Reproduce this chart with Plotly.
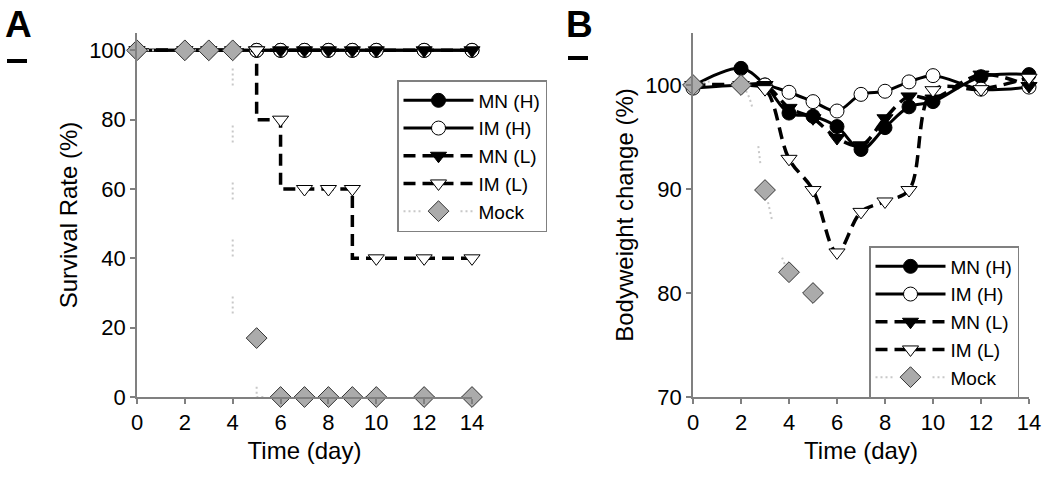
import plotly.graph_objects as go

# Panel A: survival rate (%)
days_a = [0, 2, 3, 4, 5, 6, 7, 8, 9, 10, 12, 14]
surv_mn_h = [100, 100, 100, 100, 100, 100, 100, 100, 100, 100, 100, 100]
surv_im_h = [100, 100, 100, 100, 100, 100, 100, 100, 100, 100, 100, 100]
surv_mn_l = [100, 100, 100, 100, 100, 100, 100, 100, 100, 100, 100, 100]
surv_im_l = [100, 100, 100, 100, 100, 80, 60, 60, 60, 40, 40, 40]
surv_mock = [100, 100, 100, 100, 17, 0, 0, 0, 0, 0, 0, 0]

# Panel B: bodyweight change (%)
days_b = [0, 2, 3, 4, 5, 6, 7, 8, 9, 10, 12, 14]
bw_mn_h = [99.9, 101.6, 100.0, 97.3, 97.0, 96.0, 93.8, 95.9, 97.9, 98.4, 100.8, 101.0]
bw_im_h = [99.7, 100.0, 100.0, 99.3, 98.4, 97.5, 99.1, 99.4, 100.3, 100.9, 99.6, 99.8]
bw_mn_l = [100.0, 100.0, 100.0, 97.8, 96.8, 94.9, 94.2, 96.8, 98.9, 98.7, 101.0, 99.9]
bw_im_l = [100.0, 100.0, 99.6, 92.9, 89.9, 83.9, 87.8, 88.8, 89.9, 99.5, 99.6, 100.7]
days_mock_b = [0, 2, 3, 4, 5]
bw_mock = [100.0, 100.0, 89.9, 82.0, 80.0]

names = ["MN (H)", "IM (H)", "MN (L)", "IM (L)", "Mock"]
FONT = "Liberation Sans, Arial, sans-serif"
GRAY = "#808080"
MOCK_DASH = "2px,3px,2px,3px,2px,3px,2px,40px"

styles = [
    dict(line=dict(color="black", width=3), marker=dict(symbol="circle", size=14, color="black", line=dict(color="black", width=1))),
    dict(line=dict(color="black", width=3), marker=dict(symbol="circle", size=14, color="white", line=dict(color="black", width=1))),
    dict(line=dict(color="black", width=3.5, dash="12px,7px"), marker=dict(symbol="triangle-down", size=14, color="black", line=dict(color="black", width=1))),
    dict(line=dict(color="black", width=3.5, dash="12px,7px"), marker=dict(symbol="triangle-down", size=14, color="white", line=dict(color="black", width=1))),
    dict(line=dict(color="#c8c8c8", width=2, dash=MOCK_DASH), marker=dict(symbol="diamond", size=16, color="#ababab", line=dict(color="#333333", width=1))),
]

fig = go.Figure()

series_a = [surv_mn_h, surv_im_h, surv_mn_l, surv_im_l, surv_mock]
for name, ys, st in zip(names, series_a, styles):
    fig.add_trace(go.Scatter(
        x=days_a, y=ys, name=name, mode="lines+markers",
        line=dict(st["line"], shape="vh"), marker=st["marker"],
        cliponaxis=False, xaxis="x", yaxis="y", legend="legend",
    ))

series_b = [(days_b, bw_mn_h), (days_b, bw_im_h), (days_b, bw_mn_l), (days_b, bw_im_l), (days_mock_b, bw_mock)]
for name, (xs, ys), st in zip(names, series_b, styles):
    fig.add_trace(go.Scatter(
        x=xs, y=ys, name=name, mode="lines+markers",
        line=dict(st["line"], shape="spline", smoothing=1), marker=st["marker"],
        cliponaxis=False, xaxis="x2", yaxis="y2", legend="legend2",
    ))

axis_common = dict(
    showline=True, linecolor=GRAY, linewidth=1.5, ticks="outside", ticklen=5,
    tickcolor=GRAY, tickwidth=1.5, showgrid=False, zeroline=False, automargin=False,
    tickfont=dict(family=FONT, size=22, color="black"),
)
ydom = [1 - 397 / 493, 1 - 33 / 493]
title_font = dict(family=FONT, size=24, color="black")

legend_common = dict(
    bgcolor="white", bordercolor=GRAY, borderwidth=1.5,
    font=dict(family=FONT, size=19, color="black"),
    tracegroupgap=0, itemwidth=70, xanchor="left", yanchor="top",
)

fig.update_layout(
    width=1050, height=493,
    margin=dict(l=0, r=0, t=0, b=0, autoexpand=False),
    paper_bgcolor="white", plot_bgcolor="white",
    font=dict(family=FONT, color="black"),
    xaxis=dict(axis_common, domain=[137 / 1050, 472 / 1050], range=[0, 14],
               tickvals=[0, 2, 4, 6, 8, 10, 12, 14],
               title=dict(text="Time (day)", font=title_font, standoff=8)),
    yaxis=dict(axis_common, domain=ydom, range=[0, 105], tickvals=[0, 20, 40, 60, 80, 100],
               title=dict(text="Survival Rate (%)", font=title_font, standoff=5)),
    xaxis2=dict(axis_common, domain=[693 / 1050, 1029 / 1050], range=[0, 14],
                tickvals=[0, 2, 4, 6, 8, 10, 12, 14], anchor="y2",
                title=dict(text="Time (day)", font=title_font, standoff=8)),
    yaxis2=dict(axis_common, domain=ydom, range=[70, 105], tickvals=[70, 80, 90, 100], anchor="x2",
                title=dict(text="Bodyweight change (%)", font=title_font, standoff=5)),
    legend=dict(legend_common, x=397 / 1050, y=1 - 80 / 493),
    legend2=dict(legend_common, x=869 / 1050, y=1 - 246 / 493),
    showlegend=True,
    annotations=[
        dict(text="<b>A</b>", x=3 / 1050, y=1 - 2 / 493, xref="paper", yref="paper",
             xanchor="left", yanchor="top", showarrow=False, font=dict(family=FONT, size=37)),
        dict(text="<b>B</b>", x=564 / 1050, y=1 - 2 / 493, xref="paper", yref="paper",
             xanchor="left", yanchor="top", showarrow=False, font=dict(family=FONT, size=37)),
    ],
    shapes=[
        dict(type="line", xref="paper", yref="paper", x0=7 / 1050, x1=27 / 1050,
             y0=1 - 61 / 493, y1=1 - 61 / 493, line=dict(color="black", width=4)),
        dict(type="line", xref="paper", yref="paper", x0=568 / 1050, x1=588 / 1050,
             y0=1 - 58 / 493, y1=1 - 58 / 493, line=dict(color="black", width=4)),
    ],
)

fig.write_html("out.html", config={"displayModeBar": False},
               post_script="document.body.style.margin='0';")
